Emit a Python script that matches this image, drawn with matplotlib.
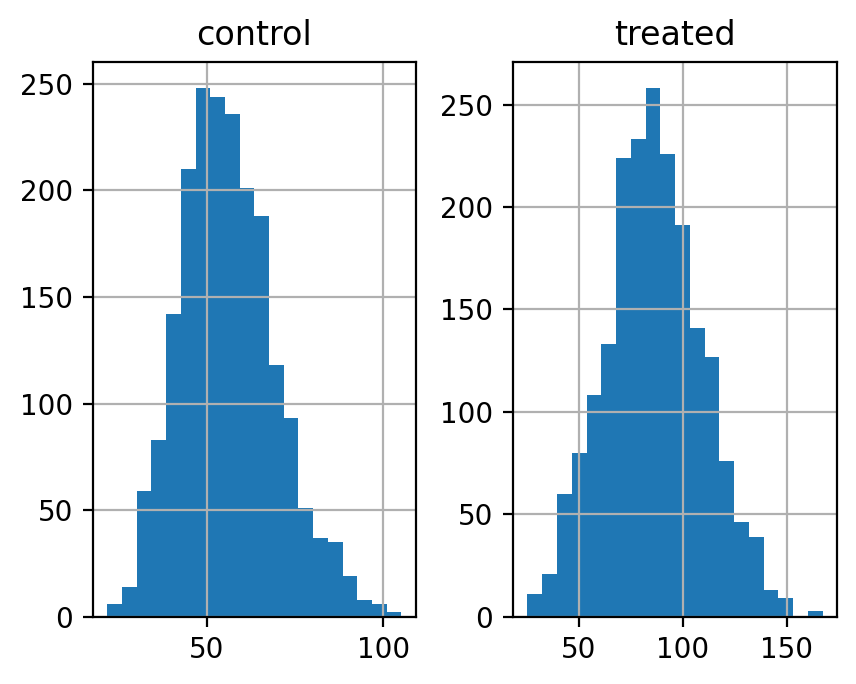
import numpy as np
import matplotlib
matplotlib.use("Agg")
import matplotlib.pyplot as plt

# counts per bin (20 bins each)
control_counts = [6, 14, 59, 83, 142, 210, 248, 244, 236, 201,
                  188, 118, 93, 51, 37, 35, 19, 8, 6, 2]
treated_counts = [11, 21, 60, 80, 108, 133, 224, 233, 258, 226,
                  191, 141, 127, 76, 46, 39, 13, 9, 0, 3]
control_range = (21.9, 105.1)
treated_range = (25.4, 167.2)
titles = ["control", "treated"]

fig = plt.figure(figsize=(4.28, 3.42), dpi=200)
ax1 = fig.add_axes([0.1083, 0.0984, 0.3777, 0.8114])
ax2 = fig.add_axes([0.5990, 0.0984, 0.3792, 0.8114])

for ax, counts, rng, title in zip([ax1, ax2],
                                  [control_counts, treated_counts],
                                  [control_range, treated_range],
                                  titles):
    edges = np.linspace(rng[0], rng[1], len(counts) + 1)
    centers = (edges[:-1] + edges[1:]) / 2
    ax.hist(centers, bins=edges, weights=counts, color="#1f77b4")
    ax.set_title(title, fontsize=12)
    ax.grid(True)

ax1.set_yticks([0, 50, 100, 150, 200, 250])
ax2.set_yticks([0, 50, 100, 150, 200, 250])
ax1.set_xticks([50, 100])
ax2.set_xticks([50, 100, 150])

fig.savefig("out.png", dpi=200)
